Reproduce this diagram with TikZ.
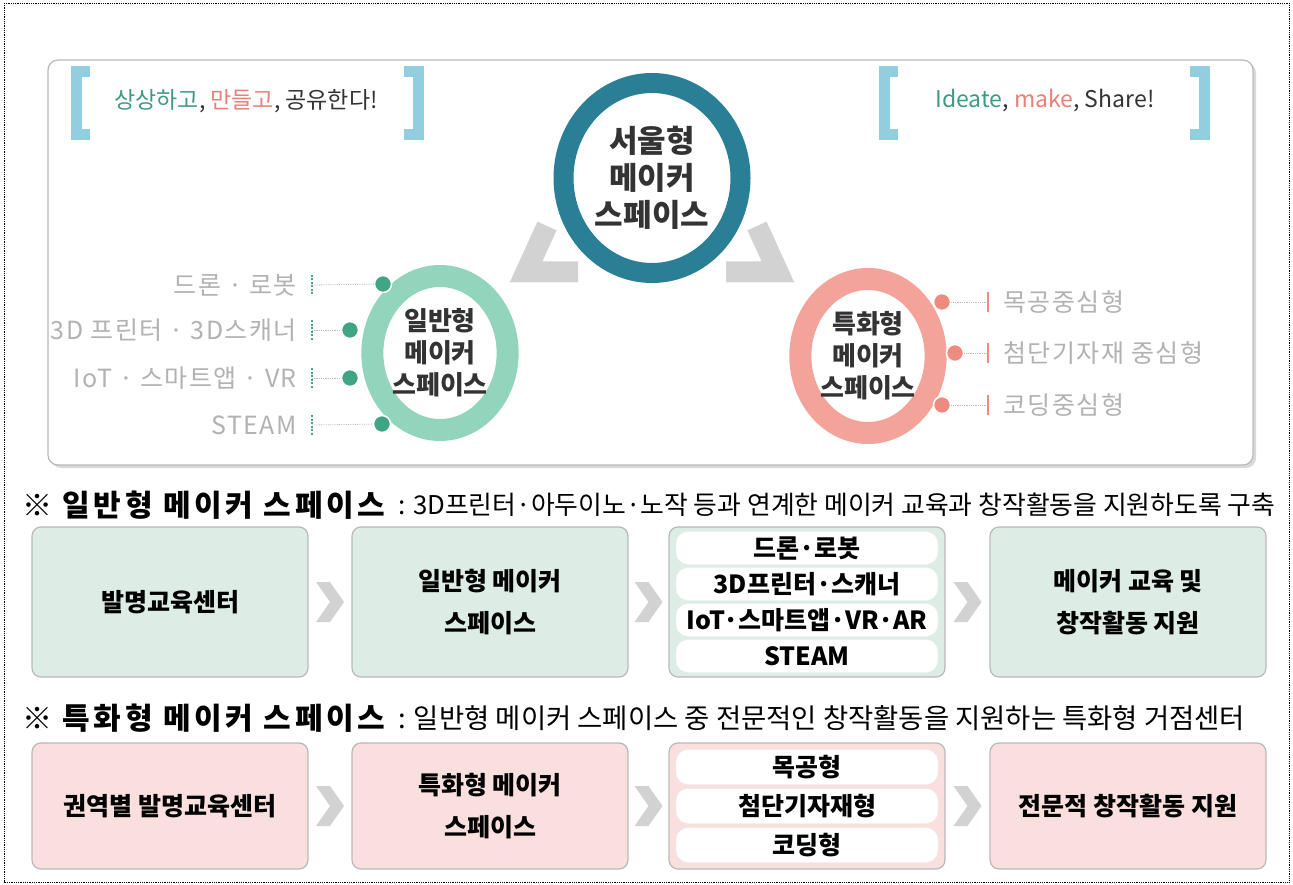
\documentclass[tikz,border=0pt]{standalone}
\usepackage{fontspec}
\setmainfont{Noto Sans CJK KR}
\usetikzlibrary{calc,shapes.geometric}
\definecolor{tealring}{HTML}{2A7F97}
\definecolor{grnring}{HTML}{93D5BC}
\definecolor{grndot}{HTML}{3FA584}
\definecolor{pnkring}{HTML}{F4A39B}
\definecolor{pnkdot}{HTML}{EE8B7E}
\definecolor{brkblue}{HTML}{93CDE0}
\definecolor{grnfill}{HTML}{DDEDE5}
\definecolor{pnkfill}{HTML}{F9DFDE}
\definecolor{txtdark}{HTML}{333333}
\definecolor{hgreen}{HTML}{3E9A83}
\definecolor{hpink}{HTML}{E8817A}
\definecolor{chevgray}{HTML}{D2D2D2}
\newcommand\chevat[1]{\fill[chevgray] (#1) ++(-14,-20) -- ++(14,0) -- ++(14,20) -- ++(-14,20) -- ++(-14,0) -- ++(14,-20) -- cycle;}
\begin{document}
\begin{tikzpicture}[x=1pt,y=-1pt,
  ringtext/.style={align=center,font=\fontsize{26}{32}\selectfont\bfseries,text=txtdark},
  lbl/.style={font=\fontsize{25}{25}\selectfont\addfontfeature{LetterSpace=6},text=gray!60,inner sep=0},
  conn/.style={gray!55,densely dotted,line width=0.8pt},
  brk/.style={brkblue,line width=11pt},
  gbox/.style={draw=gray!55,line width=1.2pt,rounded corners=9pt,fill=grnfill,minimum width=276pt,minimum height=150pt,align=center,font=\fontsize{25}{42}\selectfont\bfseries},
  pbox/.style={gbox,fill=pnkfill,minimum height=126pt},
  pill/.style={draw=gray!15,fill=white,rounded corners=12pt,minimum width=262pt,minimum height=33pt,inner sep=0,font=\fontsize{25}{25}\selectfont\bfseries},
  gdot/.style={circle,fill=grndot,draw=white,line width=1.5pt,minimum size=17pt,inner sep=0},
  pdot/.style={circle,fill=pnkdot,draw=white,line width=1.5pt,minimum size=17pt,inner sep=0},
  tarrow/.style={chevgray,line width=21pt,line join=miter}
]
\useasboundingbox (0,0) rectangle (1293,885);
\draw[densely dotted,line width=0.8pt] (4,3) rectangle (1289,882);
% top panel
\fill[gray!30,rounded corners=10pt] (51,63) rectangle (1256,468);
\draw[gray!55,fill=white,line width=1.2pt,rounded corners=10pt] (48,60) rectangle (1253,465);
% brackets
\draw[brk] (90,72) -- (76,72) -- (76,135) -- (90,135);
\draw[brk] (404,72) -- (418,72) -- (418,135) -- (404,135);
\draw[brk] (898,72) -- (884,72) -- (884,135) -- (898,135);
\draw[brk] (1190,72) -- (1204,72) -- (1204,135) -- (1190,135);
\node[font=\fontsize{23}{23}\selectfont] (slogan1) at (246,101) {\textcolor{hgreen}{상상하고}\textcolor{txtdark}{,} \textcolor{hpink}{만들고}\textcolor{txtdark}{, 공유한다!}};
\node[font=\fontsize{23}{23}\selectfont] (slogan2) at (1045,101) {\textcolor{hgreen}{Ideate}\textcolor{txtdark}{,} \textcolor{hpink}{make}\textcolor{txtdark}{, Share!}};
% gray arrows
\draw[tarrow] (547,226) -- (526,272) -- (578,272);
\draw[tarrow] (757,226) -- (778,272) -- (726,272);
% main ring
\node[ellipse,draw=tealring,line width=20pt,fill=white,minimum width=177pt,minimum height=190pt,inner sep=0,align=center,font=\fontsize{31}{37}\selectfont\bfseries,text=txtdark] (main) at (652,178) {서울형\\메이커\\스페이스};
% green ring
\node[ellipse,draw=grnring,line width=22pt,fill=white,minimum width=122pt,minimum height=154pt,inner sep=0,ringtext] (gen) at (440,353) {일반형\\메이커\\스페이스};
\node[ellipse,draw=pnkring,line width=22pt,fill=white,minimum width=122pt,minimum height=154pt,inner sep=0,ringtext] (spe) at (868,356) {특화형\\메이커\\스페이스};
% green dots and labels
\node[gdot] (gd1) at (383,284) {};
\node[gdot] (gd2) at (350,330) {};
\node[gdot] (gd3) at (350,378) {};
\node[gdot] (gd4) at (382,424) {};
\node[lbl,anchor=east] (gl1) at (297,285) {드론 · 로봇};
\node[lbl,anchor=east] (gl2) at (297,330) {3D 프린터 · 3D스캐너};
\node[lbl,anchor=east] (gl3) at (297,378) {IoT · 스마트앱 · VR};
\node[lbl,anchor=east] (gl4) at (297,425) {STEAM};
\foreach \i/\y in {1/285,2/330,3/378,4/425}{
  \coordinate (gb\i) at (312,\y);
  \draw[grndot,line width=2pt,dash pattern=on 2pt off 1.5pt] ($(gb\i)+(0,-10)$) -- ($(gb\i)+(0,10)$);
  \draw[conn] (gb\i) -- (gd\i);
}
% pink dots and labels
\node[pdot] (pd1) at (942,302) {};
\node[pdot] (pd2) at (955,353) {};
\node[pdot] (pd3) at (942,405) {};
\foreach \i/\y in {1/302,2/353,3/405}{
  \coordinate (pb\i) at (988,\y);
  \draw[pnkdot,line width=2pt] ($(pb\i)+(0,-10)$) -- ($(pb\i)+(0,10)$);
  \draw[conn] (pd\i) -- (pb\i);
}
\node[lbl,anchor=west] (pl1) at (1003,302) {목공중심형};
\node[lbl,anchor=west] (pl2) at (1003,353) {첨단기자재 중심형};
\node[lbl,anchor=west] (pl3) at (1003,405) {코딩중심형};
% header 1
\node[anchor=west,inner sep=0,text=black] (h1a) at (22,505) {\resizebox{363pt}{!}{\bfseries\addfontfeature{LetterSpace=12}※ 일반형 메이커 스페이스}};
\node[anchor=west,inner sep=0,text=black] (h1b) at (398,505) {\resizebox{877pt}{!}{: 3D프린터·아두이노·노작 등과 연계한 메이커 교육과 창작활동을 지원하도록 구축}};
% row 1
\node[gbox] (r1b1) at (170,602) {발명교육센터};
\node[gbox] (r1b2) at (490,602) {일반형 메이커\\스페이스};
\node[gbox] (r1b3) at (807,602) {};
\node[gbox] (r1b4) at (1128,602) {메이커 교육 및\\창작활동 지원};
\node[pill] (r1p1) at (807,548) {드론·로봇};
\node[pill] (r1p2) at (807,584) {3D프린터·스캐너};
\node[pill] (r1p3) at (807,620) {IoT·스마트앱·VR·AR};
\node[pill] (r1p4) at (807,656) {STEAM};
\chevat{$(r1b1.east)!0.5!(r1b2.west)$}
\chevat{$(r1b2.east)!0.5!(r1b3.west)$}
\chevat{$(r1b3.east)!0.5!(r1b4.west)$}
% header 2
\node[anchor=west,inner sep=0,text=black] (h2a) at (22,718) {\resizebox{363pt}{!}{\bfseries\addfontfeature{LetterSpace=12}※ 특화형 메이커 스페이스}};
\node[anchor=west,inner sep=0,text=black] (h2b) at (398,718) {\resizebox{847pt}{!}{: 일반형 메이커 스페이스 중 전문적인 창작활동을 지원하는 특화형 거점센터}};
% row 2
\node[pbox] (r2b1) at (170,806) {권역별 발명교육센터};
\node[pbox] (r2b2) at (490,806) {특화형 메이커\\스페이스};
\node[pbox] (r2b3) at (807,806) {};
\node[pbox] (r2b4) at (1128,806) {전문적 창작활동 지원};
\node[pill,minimum height=35pt] (r2p1) at (807,767) {목공형};
\node[pill,minimum height=35pt] (r2p2) at (807,806) {첨단기자재형};
\node[pill,minimum height=35pt] (r2p3) at (807,845) {코딩형};
\chevat{$(r2b1.east)!0.5!(r2b2.west)$}
\chevat{$(r2b2.east)!0.5!(r2b3.west)$}
\chevat{$(r2b3.east)!0.5!(r2b4.west)$}
\end{tikzpicture}
\end{document}
